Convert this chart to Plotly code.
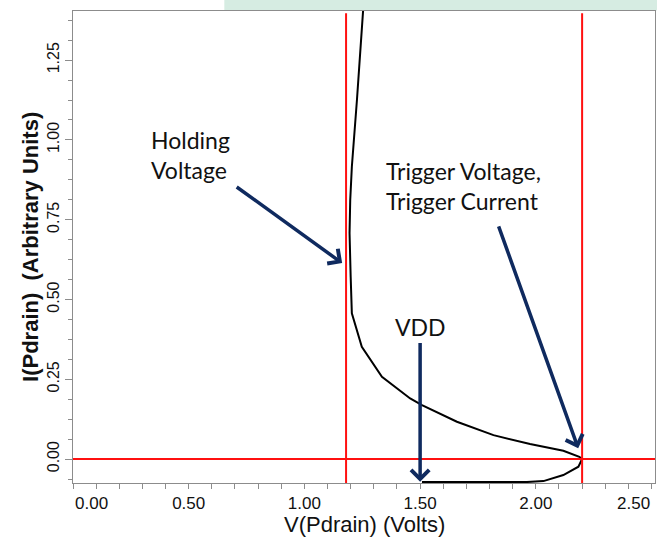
import plotly.graph_objects as go

# ---- data ----
V_CURVE = [1.508, 1.961, 2.033, 2.119, 2.184, 2.200, 2.188, 2.119, 1.975, 1.817,
           1.659, 1.508, 1.457, 1.335, 1.248, 1.227, 1.205, 1.200, 1.195, 1.198,
           1.205, 1.227, 1.255]
I_CURVE = [-0.072, -0.072, -0.069, -0.050, -0.024, 0.000, 0.007, 0.026, 0.047, 0.075,
           0.117, 0.169, 0.190, 0.258, 0.352, 0.404, 0.457, 0.570, 0.708, 0.812,
           0.916, 1.125, 1.420]

HOLD_V = 1.18
TRIG_V = 2.20
TRIG_I = 0.0
VDD = 1.50

X_TICKS = [0.0, 0.5, 1.0, 1.5, 2.0, 2.5]
X_LABELS = ["0.00", "0.50", "1.00", "1.50", "2.00", "2.50"]
Y_TICKS = [0.0, 0.25, 0.5, 0.75, 1.0, 1.25]
Y_LABELS = ["0.00", "0.25", "0.50", "0.75", "1.00", "1.25"]

NAVY = "#0f2a5f"
RED = "#ff1010"
GRAY = "#8c8c8c"
AXFONT = "Liberation Sans, Arial, sans-serif"
TICKFONT = dict(family=AXFONT, size=17, color="#111111")

# end labels are kept inside the plot width (as the original software does):
# they are drawn as aligned annotations, the inner ones as ordinary tick labels
x_text = ["" if i in (0, len(X_LABELS) - 1) else t for i, t in enumerate(X_LABELS)]

fig = go.Figure()
fig.add_trace(go.Scatter(x=V_CURVE, y=I_CURVE, mode="lines",
                         line=dict(color="black", width=2), showlegend=False,
                         hoverinfo="skip"))

# red reference lines
fig.add_shape(type="line", xref="x", yref="paper", x0=HOLD_V, x1=HOLD_V, y0=0, y1=0.995,
              line=dict(color=RED, width=2))
fig.add_shape(type="line", xref="x", yref="paper", x0=TRIG_V, x1=TRIG_V, y0=0, y1=0.995,
              line=dict(color=RED, width=2))
fig.add_shape(type="line", xref="paper", yref="y", x0=0, x1=1.0, y0=TRIG_I, y1=TRIG_I,
              line=dict(color=RED, width=2))

# mint band at top
fig.add_shape(type="rect", xref="paper", yref="paper", x0=0.26, x1=1.01, y0=1.001, y1=1.03,
              line=dict(width=0), fillcolor="#d6ece2", layer="below")

TXT = dict(family="Lato, 'Open Sans', sans-serif", size=23, color="#111111")

# text labels
fig.add_annotation(x=0.328, y=0.953, xref="x", yref="y", text="Holding<br>Voltage",
                   showarrow=False, xanchor="left", yanchor="middle", align="left", font=TXT)
fig.add_annotation(x=1.343, y=0.856, xref="x", yref="y",
                   text="Trigger Voltage,<br>Trigger Current",
                   showarrow=False, xanchor="left", yanchor="middle", align="left", font=TXT)
fig.add_annotation(x=VDD, y=0.414, xref="x", yref="y", text="VDD",
                   showarrow=False, xanchor="center", yanchor="middle", font=TXT)

# arrows
ARW = dict(showarrow=True, arrowhead=4, arrowsize=1, arrowwidth=3.5, arrowcolor=NAVY,
           axref="x", ayref="y", xref="x", yref="y", text="", standoff=0)
fig.add_annotation(x=1.163, y=0.614, ax=0.701, ay=0.856, **ARW)
fig.add_annotation(x=2.183, y=0.034, ax=1.837, ay=0.734, **ARW)
fig.add_annotation(x=VDD, y=-0.071, ax=VDD, ay=0.368, **ARW)

# end tick labels
fig.add_annotation(x=X_TICKS[0], y=0, xref="x", yref="paper", text=X_LABELS[0],
                   showarrow=False, xanchor="left", yanchor="middle", yshift=-20,
                   font=TICKFONT)
fig.add_annotation(x=X_TICKS[-1], y=0, xref="x", yref="paper", text=X_LABELS[-1],
                   showarrow=False, xanchor="right", yanchor="middle", yshift=-20,
                   font=TICKFONT)

# axis titles
fig.add_annotation(x=0.5, y=-0.087, xref="paper", yref="paper", text="V(Pdrain) (Volts)",
                   showarrow=False, xanchor="center", yanchor="middle",
                   font=dict(family=AXFONT, size=22, color="#111111"))
fig.add_annotation(x=-0.074, y=0.5, xref="paper", yref="paper",
                   text="<b>I(Pdrain)\u00a0 (Arbitrary Units)</b>", textangle=-90,
                   showarrow=False, xanchor="center", yanchor="middle",
                   font=dict(family=AXFONT, size=22, color="#111111"))

fig.update_layout(
    width=657, height=543,
    margin=dict(l=73, r=2, t=11, b=60, autoexpand=False),
    paper_bgcolor="white", plot_bgcolor="white",
    showlegend=False,
)
fig.update_xaxes(
    range=[0, 2.515], tickvals=X_TICKS, ticktext=x_text, automargin=False,
    showgrid=False, zeroline=False, showline=True, mirror=True,
    linecolor=GRAY, linewidth=1, ticks="outside", ticklen=5, tickcolor=GRAY,
    tickfont=TICKFONT,
    minor=dict(dtick=0.1, tick0=0, ticks="outside", ticklen=5, tickcolor=GRAY),
)
fig.update_yaxes(
    range=[-0.075, 1.404], tickvals=Y_TICKS, ticktext=Y_LABELS, tickangle=-90,
    automargin=False,
    showgrid=False, zeroline=False, showline=True, mirror=True,
    linecolor=GRAY, linewidth=1, ticks="outside", ticklen=7, tickcolor=GRAY,
    tickfont=dict(family=AXFONT, size=16, color="#111111"),
    minor=dict(dtick=0.0625, tick0=0, ticks="outside", ticklen=4, tickcolor=GRAY),
)

fig.write_html("out.html", config={"displayModeBar": False},
               post_script="document.body.style.margin='0';document.body.style.overflow='hidden';")
